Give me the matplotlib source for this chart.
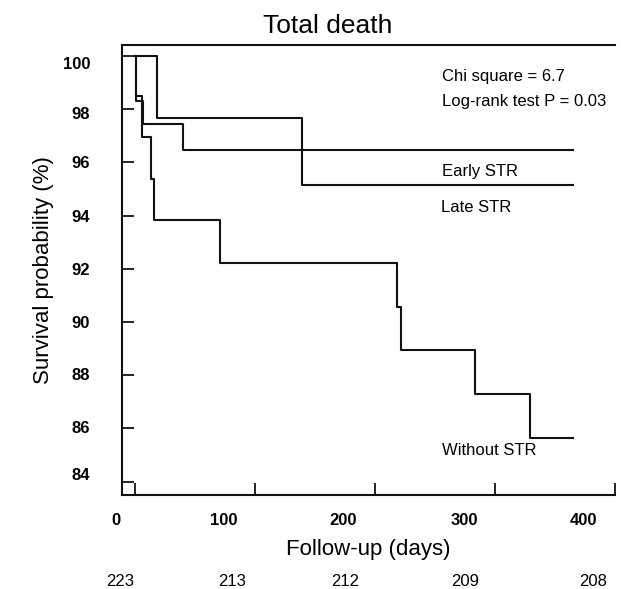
import matplotlib
matplotlib.use('Agg')
import matplotlib.pyplot as plt
from matplotlib.transforms import ScaledTranslation

plt.rcParams['font.family'] = ['Liberation Sans', 'DejaVu Sans']

# Kaplan-Meier steps (days, survival %)
early_t = [0, 1, 6.5, 40, 365]
early_s = [100, 98.3, 97.43, 96.45, 96.45]

late_t = [0, 18, 139, 365]
late_s = [100, 97.68, 95.15, 95.15]

without_t = [0, 0.5, 6, 13, 16, 71, 218, 222, 283, 329, 365]
without_s = [100, 98.5, 96.97, 95.39, 93.83, 92.23, 90.58, 88.95, 87.28, 85.65, 85.65]

xticks = [0, 100, 200, 300, 400]
yticks = [84, 86, 88, 90, 92, 94, 96, 98, 100]
at_risk = ['223', '213', '212', '209', '208']

fig = plt.figure(figsize=(6.21, 5.89), dpi=100)
ax = fig.add_axes([122/621, 94/589, 493/621, 450/589])

for t, s in [(early_t, early_s), (late_t, late_s), (without_t, without_s)]:
    ax.step(t, s, where='post', color='#111111', lw=1.5)

ax.set_xlim(-10.8, 400)
ax.set_ylim(83.5, 100.41)
ax.spines['right'].set_visible(False)
for sp in ['left', 'bottom', 'top']:
    ax.spines[sp].set_linewidth(1.5)
    ax.spines[sp].set_color('#111111')

ax.set_xticks(xticks)
ax.set_xticklabels([str(v) for v in xticks], fontweight='bold', fontsize=12)
ax.set_yticks(yticks)
ax.set_yticklabels([str(v) for v in yticks], fontweight='bold', fontsize=12)
ax.tick_params(axis='x', direction='in', length=8.5, width=1.2, pad=13)
ax.tick_params(axis='y', direction='in', length=8.8, width=1.2, pad=23)

# tick labels in the source sit off their ticks
x_shift = [-19, -31, -32, -31, -31]
for lab, dx in zip(ax.get_xticklabels(), x_shift):
    lab.set_transform(lab.get_transform() + ScaledTranslation(dx/100, 0, fig.dpi_scale_trans))
y_shift = [8, 1.5, 1.5, 0, 0, 0, 0, -3.4, -6.6]
for lab, dy in zip(ax.get_yticklabels(), y_shift):
    lab.set_transform(lab.get_transform() + ScaledTranslation(0, dy/100, fig.dpi_scale_trans))

ax.set_xlabel('Follow-up (days)', fontsize=16, labelpad=8)
ax.set_ylabel('Survival probability (%)', fontsize=16, labelpad=6)
fig.text(328/621, 1-33/589, 'Total death', fontsize=19, ha='center', va='baseline')

ax.text(255.6, 99.06, 'Chi square = 6.7', fontsize=12, va='baseline')
ax.text(255.6, 98.13, 'Log-rank test P = 0.03', fontsize=12, va='baseline')
ax.text(255.6, 95.5, 'Early STR', fontsize=12, va='baseline')
ax.text(254.7, 94.14, 'Late STR', fontsize=12, va='baseline')
ax.text(255.6, 85.0, 'Without STR', fontsize=12, va='baseline')

risk_px = [120, 232, 345, 465, 593]
for px, n in zip(risk_px, at_risk):
    fig.text(px/621, 1-586/589, n, fontsize=12, ha='center', va='baseline')

fig.savefig('out.png', dpi=100)
